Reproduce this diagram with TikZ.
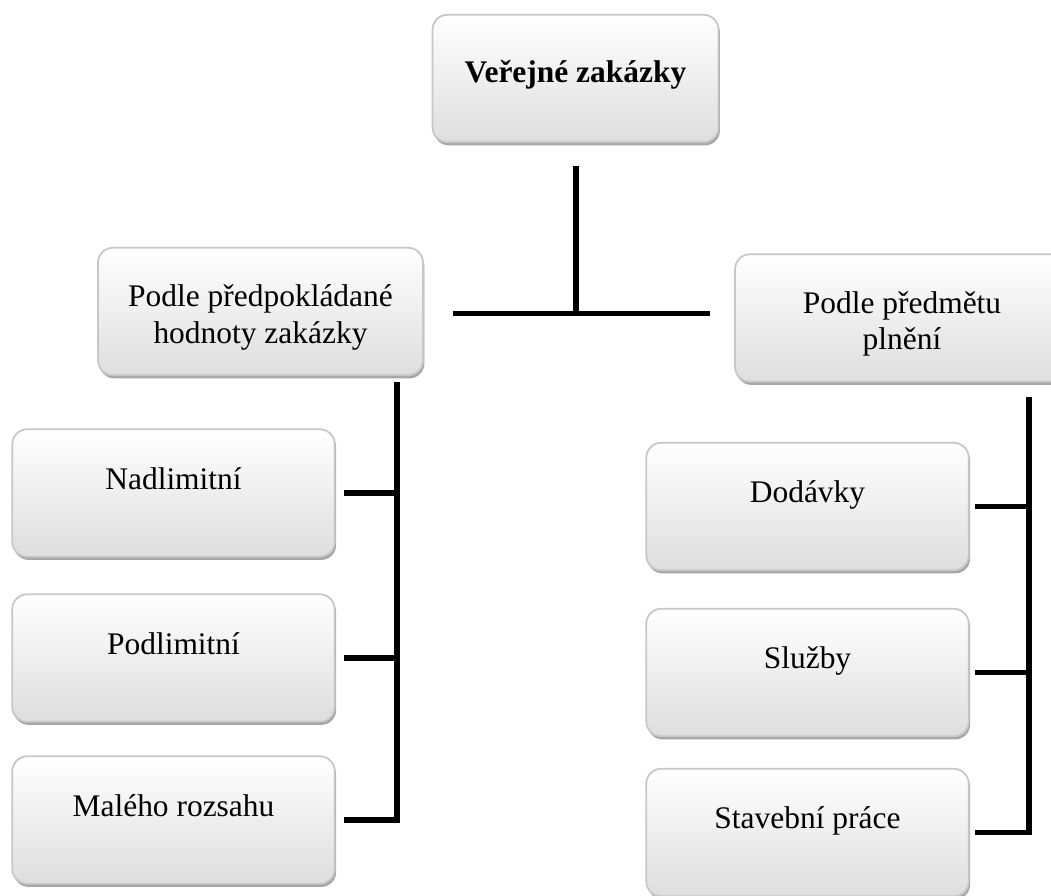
\documentclass[tikz,border=0pt]{standalone}
\usepackage{fontspec}
\setmainfont{Liberation Serif}
\usetikzlibrary{shadows, calc}

\begin{document}
\begin{tikzpicture}[
  card/.style = {draw=black!22, line width=1pt, rounded corners=0.3cm,
    top color=white, bottom color=black!13,
    minimum width=6.45cm, minimum height=2.55cm, inner sep=0pt,
    text height=13pt, text depth=17pt,
    drop shadow={shadow xshift=0.8pt, shadow yshift=-1.8pt, fill=black!50, opacity=0.7},
    font=\fontsize{17.9}{20.6}\selectfont},
  two lines/.style = {align=center, text height=36pt, text depth=0pt},
  thick link/.style = {line width=3.4pt, line join=miter}
]
  \useasboundingbox (0,0) rectangle (21.02,-17.9);

  \node[card, minimum width=5.72cm, text depth=9pt] (top) at (11.51,-1.57) {\textbf{Veřejné zakázky}};

  \node[card, two lines, minimum width=6.5cm] (lmid) at (5.21,-6.23) {Podle předpokládané\\hodnoty zakázky};
  \node[card, two lines, minimum width=6.68cm] (rmid) at (18.04,-6.36) {Podle předmětu\\plnění};

  \node[card] (L1) at (3.47,-9.86) {Nadlimitní};
  \node[card] (L2) at (3.47,-13.16) {Podlimitní};
  \node[card] (L3) at (3.47,-16.40) {Malého rozsahu};

  \node[card] (R1) at (16.15,-10.13) {Dodávky};
  \node[card] (R2) at (16.15,-13.45) {Služby};
  \node[card] (R3) at (16.15,-16.65) {Stavební práce};

  \coordinate (tj) at (11.52,-6.27);
  \coordinate (lbus) at (7.94,-7.64);
  \coordinate (rbus) at (20.58,-7.94);

  \draw[thick link] ([yshift=-0.46cm]tj |- top.south) -- (tj);
  \draw[thick link] ([xshift=0.58cm]lmid.east |- tj) -- ([xshift=-0.48cm]rmid.west |- tj);

  \draw[thick link] (lbus) -- (lbus |- L3.east) -- ([xshift=0.16cm]L3.east);
  \foreach \n in {L1, L2}
    \draw[thick link] ([xshift=0.16cm]\n.east) -- (lbus |- \n.east);

  \draw[thick link] (rbus) -- (rbus |- R3.east) -- ([xshift=0.1cm]R3.east);
  \foreach \n in {R1, R2}
    \draw[thick link] ([xshift=0.1cm]\n.east) -- (rbus |- \n.east);
\end{tikzpicture}
\end{document}
